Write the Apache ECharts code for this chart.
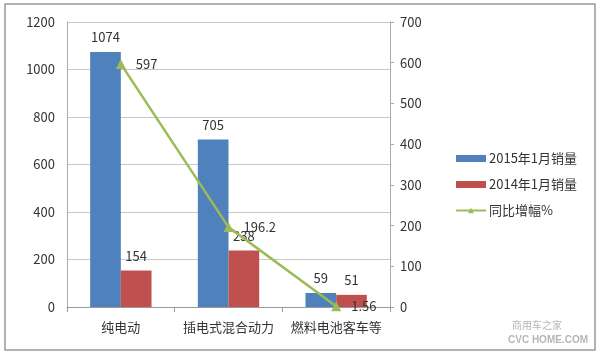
<!DOCTYPE html>
<html><head><meta charset="utf-8">
<script src="https://cdn.jsdelivr.net/npm/echarts@6/dist/echarts.min.js"></script>
<style>html,body{margin:0;padding:0;background:#fff}#c{width:600px;height:361px}</style>
</head><body><div id="c"></div>
<script>
const categories = ['纯电动', '插电式混合动力', '燃料电池客车等'];
const sales2015 = [1074, 705, 59];
const sales2014 = [154, 238, 51];
const growth = [597, 196.2, 1.56];
const leftTicks = [0, 200, 400, 600, 800, 1000, 1200];
const rightTicks = [0, 100, 200, 300, 400, 500, 600, 700];

const font = '"Noto Sans CJK SC", "Liberation Sans", sans-serif';
const chart = echarts.init(document.getElementById('c'));
chart.setOption({
  animation: false,
  textStyle: { fontFamily: font },
  graphic: [
    { type: 'rect', shape: { x: 5, y: 4, width: 590, height: 346 }, style: { fill: 'none', stroke: '#9a9a9a', lineWidth: 1.5 } },
    { type: 'text', left: 512, top: 320, style: { text: '商用车之家', fill: 'rgba(120,120,120,0.55)', font: '10px ' + font } },
    { type: 'text', left: 508, top: 335, style: { text: 'CVC HOME.COM', fill: 'rgba(120,120,120,0.55)', font: 'bold 10px "Liberation Sans"' } }
  ],
  grid: { left: 67, right: 210, top: 22, bottom: 54 },
  legend: {
    orient: 'vertical', left: 450, top: 147, itemGap: 13, itemWidth: 30, itemHeight: 7,
    textStyle: { fontSize: 13, color: '#333', fontFamily: font, padding: [0, 0, 0, -2] },
    data: [
      { name: '2015年1月销量', icon: 'rect' },
      { name: '2014年1月销量', icon: 'rect' },
      { name: '同比增幅%' }
    ]
  },
  xAxis: {
    type: 'category', data: categories,
    axisLine: { lineStyle: { color: '#999' } },
    axisTick: { show: true, lineStyle: { color: '#999' } },
    axisLabel: { color: '#333', fontSize: 13, margin: 14, interval: 0 }
  },
  yAxis: [
    { type: 'value', min: 0, max: 1200, interval: 200,
      axisLine: { show: true, lineStyle: { color: '#aaa' } }, axisTick: { show: false },
      axisLabel: { color: '#333', fontSize: 13, margin: 12, formatter: v => String(v) },
      splitLine: { lineStyle: { color: '#c8c8c8' } } },
    { type: 'value', min: 0, max: 700, interval: 100, position: 'right',
      axisLine: { show: true, lineStyle: { color: '#aaa' } },
      axisTick: { show: true, length: 4, lineStyle: { color: '#aaa' } },
      axisLabel: { color: '#333', fontSize: 13, margin: 10, formatter: v => String(v) },
      splitLine: { show: false } }
  ],
  series: [
    { name: '2015年1月销量', type: 'bar', data: sales2015, barGap: '0%', barCategoryGap: '43%',
      itemStyle: { color: '#4F81BD' },
      label: { show: true, position: 'top', color: '#333', fontSize: 13, distance: 8 } },
    { name: '2014年1月销量', type: 'bar', data: sales2014,
      itemStyle: { color: '#C0504D' },
      label: { show: true, position: 'top', color: '#333', fontSize: 13, distance: 8 } },
    { name: '同比增幅%', type: 'line', yAxisIndex: 1, data: growth,
      symbol: 'triangle', symbolSize: 10,
      lineStyle: { color: '#9BBB59', width: 2.5 }, itemStyle: { color: '#9BBB59' },
      label: { show: true, position: 'right', color: '#333', fontSize: 13, distance: 10,
        formatter: p => String(p.value) } }
  ]
});
</script></body></html>
